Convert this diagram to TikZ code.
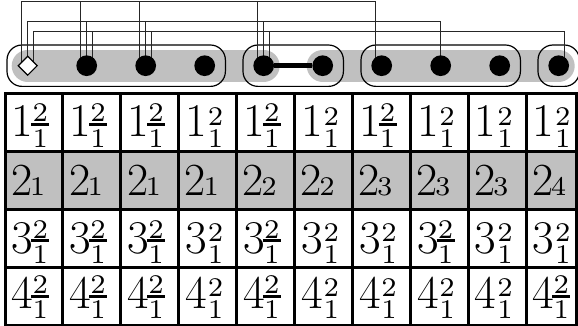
\documentclass[tikz,border=0pt]{standalone}
\usetikzlibrary{shapes.geometric,fit}
\definecolor{bandgray}{RGB}{192,192,192}
\newcommand\mainfs{\fontsize{47}{47}\selectfont}
\newcommand\midfs{\fontsize{46}{46}\selectfont}
\font\scr=cmr7 at 27pt
\newcommand\ssplain[1]{{\mainfs #1}\kern0.5pt\rlap{\makebox[16pt]{\raisebox{12pt}{\scr 2}}}\makebox[16pt]{\raisebox{-10pt}{\scr 1}}}
\newcommand\ssbar[1]{{\mainfs #1}\kern-2pt\rlap{\rule[10.8pt]{18pt}{3pt}}\rlap{\makebox[18pt]{\raisebox{15pt}{\scr 2}}}\makebox[18pt]{\raisebox{-10pt}{\scr 1}}}
\newcommand\sssub[2]{{\midfs #1}\kern-2.5pt{\scr #2}}
\tikzset{
  groupbox/.style={draw=black,rounded corners=15pt,inner sep=20.7pt,line width=1.2pt},
  wire/.style={draw=black!85,line width=1.2pt},
  dotnode/.style={circle,fill=black,inner sep=0pt,minimum size=20.7pt},
  dianode/.style={diamond,draw=black,fill=white,line width=1.2pt,inner sep=0pt,minimum size=19.4pt},
  tline/.style={line width=3pt,line cap=rect},
  band/.style={draw=bandgray,line width=32pt,line cap=round},
  cell/.style={inner sep=0pt,anchor=base west}
}
\begin{document}
\begin{tikzpicture}[x=1pt,y=-1pt]
\useasboundingbox (0,0) rectangle (578,326);
% node positions
\foreach \i in {1,...,10} \coordinate (c\i) at ({27.7+59*(\i-1)},65.7);
% gray band
\draw[band] (c1) -- (c5);
\draw[band] (c6) -- (c10);
% group boxes
\node[groupbox,fit=(c1)(c4)] (g1) {};
\node[groupbox,fit=(c5)(c6)] (g2) {};
\node[groupbox,fit=(c7)(c9)] (g3) {};
\node[groupbox,fit=(c10)] (g4) {};
% wire levels
\coordinate (la) at (0,1.7);
\coordinate (lb) at (0,21.7);
\coordinate (lc) at (0,31.7);
\foreach \i in {1,...,10} {
  \coordinate (a\i) at ([xshift=-6pt]c\i);
  \coordinate (b\i) at (c\i);
  \coordinate (d\i) at ([xshift=6pt]c\i);
}
\draw[wire] (a1) -- (a1 |- la) -- (a7 |- la) -- (a7);
\foreach \i in {2,3,5} \draw[wire] (a\i |- la) -- (a\i);
\draw[wire] (b1) -- (b1 |- lb) -- (b8 |- lb) -- (b8);
\foreach \i in {2,3,5} \draw[wire] (b\i |- lb) -- (b\i);
\draw[wire] (d1) -- (d1 |- lc) -- (d10 |- lc) -- (d10);
\foreach \i in {2,3,5} \draw[wire] (d\i |- lc) -- (d\i);
% nodes
\node[dianode] (n1) at (c1) {};
\foreach \i in {2,...,10} \node[dotnode] (n\i) at (c\i) {};
\draw[line width=4.5pt] (n5) -- (n6);
% table
\fill[bandgray] (5,151.5) rectangle (576,209);
\foreach \y in {94,151.5,209,267,325} \draw[tline] (5,\y) -- (576,\y);
\foreach \k in {0,...,9} \draw[tline] ({5+57.9*\k},94) -- ({5+57.9*\k},325);
\draw[tline] (576,94) -- (576,325);
% row 1
\foreach \b [count=\k from 0] in {1,1,1,0,1,0,1,0,0,0}
  \node[cell] (ra\k) at ({11.5+57.9*\k},137) {\ifnum\b=1 \ssbar{1}\else\ssplain{1}\fi};
% row 2
\foreach \s [count=\k from 0] in {1,1,1,1,2,2,3,3,3,4}
  \node[cell] (rb\k) at ({11+57.9*\k},195.5) {\sssub{2}{\s}};
% row 3
\foreach \b [count=\k from 0] in {1,1,1,0,1,0,0,1,0,0}
  \node[cell] (rc\k) at ({11.5+57.9*\k},253) {\ifnum\b=1 \ssbar{3}\else\ssplain{3}\fi};
% row 4
\foreach \b [count=\k from 0] in {1,1,1,0,1,0,0,0,0,1}
  \node[cell] (rd\k) at ({11.5+57.9*\k},308.5) {\ifnum\b=1 \ssbar{4}\else\ssplain{4}\fi};
\end{tikzpicture}
\end{document}
